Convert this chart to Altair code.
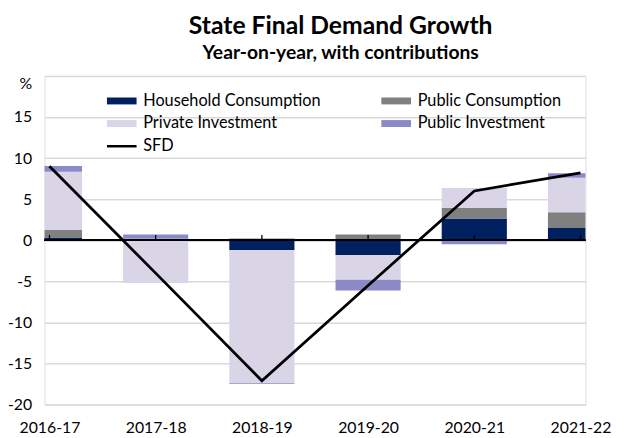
import altair as alt
import pandas as pd

years = ["2016-17", "2017-18", "2018-19", "2019-20", "2020-21", "2021-22"]
household = [0.35, 0.15, -1.2, -1.8, 2.65, 1.5]
public_cons = [0.9, 0.05, 0.2, 0.7, 1.3, 1.9]
private_inv = [7.1, -5.2, -16.2, -3.0, 2.4, 4.2]
public_inv = [0.7, 0.5, -0.1, -1.3, -0.5, 0.55]
sfd = [9.0, -4.0, -17.1, -5.5, 6.0, 8.2]

series_names = ["Household Consumption", "Public Consumption",
                "Private Investment", "Public Investment", "SFD"]
series_colors = ["#002060", "#808080", "#D9D5E7", "#8B8AC6", "#000000"]
y_ticks = [-20, -15, -10, -5, 0, 5, 10, 15, 20]

rows = []
for k, (name, vals) in enumerate(zip(series_names[:4],
                                     [household, public_cons, private_inv, public_inv])):
    for i, v in enumerate(vals):
        rows.append({"idx": i, "year": years[i], "series": name, "ord": k, "value": v})
bars_df = pd.DataFrame(rows)
line_df = pd.DataFrame({"idx": list(range(len(years))), "year": years, "sfd": sfd})

FONT = "Lato"
year_arr = "[" + ",".join("'%s'" % y for y in years) + "]"

x_scale = alt.Scale(domain=[0, len(years) - 1], nice=False, zero=False)
y_scale = alt.Scale(domain=[-20, 20], nice=False)

x_axis = alt.Axis(values=list(range(len(years))), labelExpr=year_arr + "[datum.value]",
                  title=None, grid=False, domain=False, ticks=False, labelPadding=15,
                  labelFontSize=16, labelFont=FONT, labelColor="black",
                  labelFlush=False, labelOverlap=False)
y_axis = alt.Axis(values=y_ticks, labelExpr="datum.value == 20 ? '%' : '' + datum.value",
                  title=None, domain=False, ticks=False, grid=True, gridColor="#D9D9D9",
                  gridWidth=1.5, labelPadding=13, labelFontSize=16, labelFont=FONT,
                  labelColor="black",
                  labelBaseline={"condition": {"test": "datum.value == 20", "value": "top"},
                                 "value": "middle"})

sfd_shape = "M-4.286,-0.36H4.286V0.36H-4.286Z"
bar_shape = "M-4.286,-1H4.286V1H-4.286Z"

legend = alt.Legend(title=None, orient="none", legendX=70, legendY=17, columns=2,
                    direction="horizontal",
                    symbolType=alt.ExprRef("datum.value === 'SFD' ? '%s' : '%s'" % (sfd_shape, bar_shape)),
                    symbolSize=49, symbolStrokeWidth=0,
                    labelFont=FONT, labelFontSize=16.5, labelColor="black", labelLimit=400,
                    labelOffset=13.5, columnPadding=61, rowPadding=6, padding=0)

bars = alt.Chart(bars_df).mark_bar(size=66, clip=True, orient="vertical").encode(
    x=alt.X("idx:Q", scale=x_scale, axis=x_axis),
    y=alt.Y("value:Q", stack="zero", scale=y_scale, axis=y_axis),
    color=alt.Color("series:N", scale=alt.Scale(domain=series_names, range=series_colors),
                    legend=legend),
    order=alt.Order("ord:Q"),
)

zero = alt.Chart(line_df).mark_rule(color="black", strokeWidth=1.3).encode(
    y=alt.Y(datum=0)
)

ticks = alt.Chart(line_df).mark_rule(color="black", strokeWidth=1.3).encode(
    x=alt.X("idx:Q", scale=x_scale),
    y=alt.Y(datum=0),
    y2=alt.Y2(datum=0.65),
)

line = alt.Chart(line_df).mark_line(color="black", strokeWidth=2.8).encode(
    x=alt.X("idx:Q", scale=x_scale),
    y=alt.Y("sfd:Q", scale=y_scale),
)

chart = alt.layer(bars, zero, ticks, line).properties(
    width=548, height=333,
    autosize=alt.AutoSizeParams(type="none"),
    padding={"left": 37, "top": 66, "right": 34, "bottom": 28},
    title=alt.Title("State Final Demand Growth",
                    subtitle="Year-on-year, with contributions",
                    font=FONT, fontSize=25, fontWeight="bold", color="black",
                    subtitleFont=FONT, subtitleFontSize=19.5, subtitleFontWeight="bold",
                    subtitleColor="black", anchor="middle", dx=26, offset=14,
                    subtitlePadding=5),
).configure_view(stroke="black", strokeWidth=3).configure(font=FONT)

chart.save("out.html", embed_options={"renderer": "svg", "actions": False})
